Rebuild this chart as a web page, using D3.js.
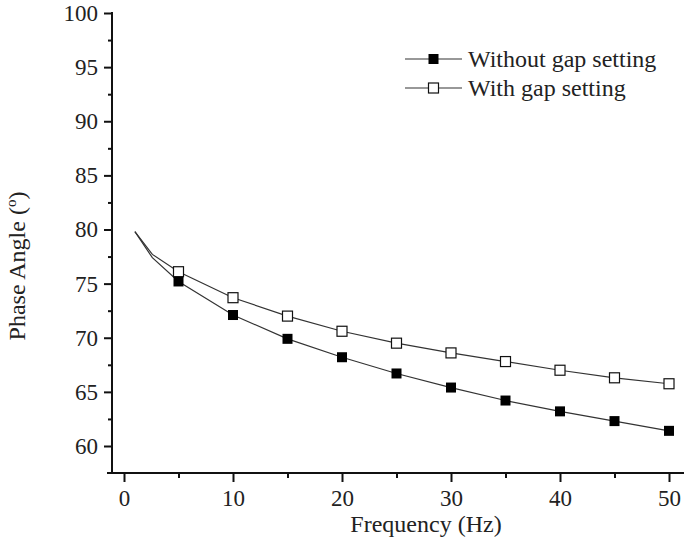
<!DOCTYPE html>
<html>
<head>
<meta charset="utf-8">
<script src="https://cdn.jsdelivr.net/npm/d3@7"></script>
<style>
  html, body { margin: 0; padding: 0; background: #fff; }
  svg { display: block; }
  svg text { font-family: "Times New Roman", "Liberation Serif", Tinos, Times, serif !important; fill: #222; }
</style>
</head>
<body>
<svg id="chart" width="685" height="542"></svg>
<script>
// ---- data ----
const freq = [5, 10, 15, 20, 25, 30, 35, 40, 45, 50];
const withoutGap = [75.2, 72.1, 69.9, 68.2, 66.7, 65.4, 64.2, 63.2, 62.3, 61.4];
const withGap = [76.1, 73.7, 72.0, 70.6, 69.5, 68.6, 67.8, 67.0, 66.3, 65.75];
// measured curve start (before first marker)
const startFreq = [1, 2.6];
const startWithout = [79.8, 77.4];
const startWith = [79.8, 77.7];
const xTicks = [0, 10, 20, 30, 40, 50];
const xMinor = [5, 15, 25, 35, 45];
const yTicks = [60, 65, 70, 75, 80, 85, 90, 95, 100];
const yMinor = [62.5, 67.5, 72.5, 77.5, 82.5, 87.5, 92.5, 97.5];
const seriesNames = ["Without gap setting", "With gap setting"];

// ---- layout ----
const svg = d3.select("#chart");
const x = d3.scaleLinear().domain([0, 50]).range([124, 669]);
const y = d3.scaleLinear().domain([60, 100]).range([446, 13]);
const axisX = 112, axisY = 473;

// axes lines
svg.append("line").attr("x1", axisX).attr("x2", axisX).attr("y1", y(100) - 1).attr("y2", axisY + 1)
  .attr("stroke", "#111").attr("stroke-width", 2);
svg.append("line").attr("x1", 107).attr("x2", 684).attr("y1", axisY).attr("y2", axisY)
  .attr("stroke", "#111").attr("stroke-width", 2);

// y axis ticks
const gy = svg.append("g").attr("transform", `translate(${axisX},0)`)
  .call(d3.axisLeft(y).tickValues(yTicks).tickSize(8).tickPadding(6).tickFormat(d3.format("d")));
gy.attr("font-family", null).attr("font-size", null);
gy.select(".domain").remove();
gy.selectAll(".tick line").attr("stroke", "#111").attr("stroke-width", 2);
gy.selectAll(".tick text").style("font-size", "23px").attr("fill", "#222");
const gym = svg.append("g").attr("transform", `translate(${axisX},0)`)
  .call(d3.axisLeft(y).tickValues(yMinor).tickSize(4).tickFormat(""));
gym.select(".domain").remove();
gym.selectAll(".tick line").attr("stroke", "#111").attr("stroke-width", 2);

// x axis ticks
const gx = svg.append("g").attr("transform", `translate(0,${axisY})`)
  .call(d3.axisBottom(x).tickValues(xTicks).tickSize(9).tickPadding(8).tickFormat(d3.format("d")));
gx.attr("font-family", null).attr("font-size", null);
gx.select(".domain").remove();
gx.selectAll(".tick line").attr("stroke", "#111").attr("stroke-width", 2);
gx.selectAll(".tick text").style("font-size", "23px").attr("fill", "#222");
const gxm = svg.append("g").attr("transform", `translate(0,${axisY})`)
  .call(d3.axisBottom(x).tickValues(xMinor).tickSize(5).tickFormat(""));
gxm.select(".domain").remove();
gxm.selectAll(".tick line").attr("stroke", "#111").attr("stroke-width", 2);

// axis labels
svg.append("text").attr("x", 426).attr("y", 532).attr("text-anchor", "middle")
  .style("font-size", "24px").text("Frequency (Hz)");
const yl = svg.append("text").attr("transform", "translate(25,266) rotate(-90)")
  .attr("text-anchor", "middle").style("font-size", "24px");
yl.append("tspan").text("Phase Angle (");
yl.append("tspan").attr("dy", -9).style("font-size", "15px").text("o");
yl.append("tspan").attr("dy", 9).text(")");

// lines
const line = d3.line().x(d => x(d[0])).y(d => y(d[1]));
const lineWithout = startFreq.map((f, i) => [f, startWithout[i]]).concat(freq.map((f, i) => [f, withoutGap[i]]));
const lineWith = startFreq.map((f, i) => [f, startWith[i]]).concat(freq.map((f, i) => [f, withGap[i]]));
svg.append("path").attr("d", line(lineWith)).attr("fill", "none").attr("stroke", "#333").attr("stroke-width", 1.2);
svg.append("path").attr("d", line(lineWithout)).attr("fill", "none").attr("stroke", "#333").attr("stroke-width", 1.2);

const ms = 10;
svg.append("g").selectAll("rect").data(freq.map((f, i) => [f, withGap[i]])).join("rect")
  .attr("x", d => x(d[0]) - ms / 2).attr("y", d => y(d[1]) - ms / 2)
  .attr("width", ms).attr("height", ms).attr("fill", "#fff").attr("stroke", "#111").attr("stroke-width", 1.2);
svg.append("g").selectAll("rect").data(freq.map((f, i) => [f, withoutGap[i]])).join("rect")
  .attr("x", d => x(d[0]) - ms / 2).attr("y", d => y(d[1]) - ms / 2)
  .attr("width", ms).attr("height", ms).attr("fill", "#000");

// legend
const leg = svg.append("g");
const legY = [59, 88];
seriesNames.forEach((name, i) => {
  leg.append("line").attr("x1", 405).attr("x2", 462).attr("y1", legY[i]).attr("y2", legY[i])
    .attr("stroke", "#333").attr("stroke-width", 1.2);
  leg.append("rect").attr("x", 433.5 - ms / 2).attr("y", legY[i] - ms / 2).attr("width", ms).attr("height", ms)
    .attr("fill", i === 0 ? "#000" : "#fff").attr("stroke", "#111").attr("stroke-width", i === 0 ? 0 : 1.2);
  leg.append("text").attr("x", 468).attr("y", legY[i] + 8).style("font-size", "24px").text(name);
});
</script>
</body>
</html>
